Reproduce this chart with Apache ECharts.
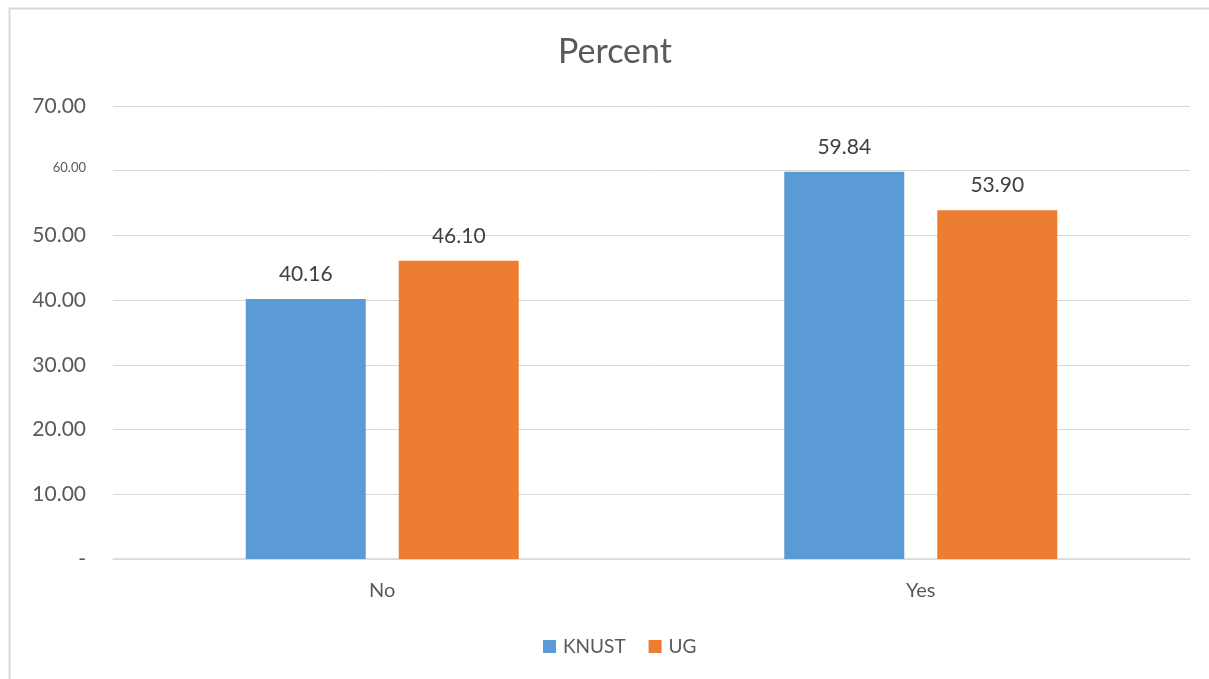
<!DOCTYPE html>
<html><head><meta charset="utf-8">
<script src="https://cdn.jsdelivr.net/npm/echarts@6/dist/echarts.min.js"></script>
<style>html,body{margin:0;padding:0;background:#fff}#c{width:1209px;height:679px}</style>
</head><body><div id="c"></div>
<script>
const categories = ['No', 'Yes'];
const knust = [40.16, 59.84];
const ug = [46.10, 53.90];
const seriesNames = ['KNUST', 'UG'];
const FONT = 'Lato, "Open Sans", sans-serif';
const chart = echarts.init(document.getElementById('c'));
chart.setOption({
  animation: false,
  backgroundColor: '#fff',
  textStyle: { fontFamily: FONT },
  title: { text: 'Percent', left: 553, top: 30, textStyle: { fontFamily: FONT, fontSize: 34, fontWeight: 'normal', color: '#595959' } },
  graphic: [{ type: 'rect', shape: { x: 9.5, y: 8.5, width: 1230, height: 700 }, style: { fill: 'none', stroke: '#d9d9d9', lineWidth: 2 }, silent: true }],
  legend: { bottom: 18, left: 538, itemWidth: 13, itemHeight: 13, itemGap: 23, icon: 'rect', textStyle: { fontFamily: FONT, fontSize: 19, color: '#595959', padding: [0,0,0,2] }, data: seriesNames },
  grid: { left: 113, right: 19, top: 106, bottom: 120, containLabel: false },
  xAxis: { type: 'category', data: categories, axisTick: { show: false }, axisLine: { lineStyle: { color: '#d9d9d9', width: 1.5 } }, axisLabel: { fontFamily: FONT, fontSize: 20, color: '#595959', margin: 22 } },
  yAxis: { type: 'value', min: 0, max: 70, interval: 10, axisLine: { show: false }, axisTick: { show: false },
    splitLine: { lineStyle: { color: '#d9d9d9', width: 1 } },
    axisLabel: { fontFamily: FONT, fontSize: 21, color: '#595959', margin: 27,
      formatter: function (v) { if (v === 0) return '-'; if (v === 60) return '{s|60.00}'; return v.toFixed(2); },
      rich: { s: { fontSize: 13, color: '#595959', fontFamily: FONT, padding: [0,0,6,0] } } } },
  series: [
    { name: seriesNames[0], type: 'bar', data: knust, barWidth: 120, barGap: '27.5%', itemStyle: { color: '#5b9bd5' },
      label: { show: true, position: 'top', distance: 14, formatter: p => p.value.toFixed(2), fontFamily: FONT, fontSize: 21, color: '#404040' } },
    { name: seriesNames[1], type: 'bar', data: ug, barWidth: 120, itemStyle: { color: '#ed7d31' },
      label: { show: true, position: 'top', distance: 14, formatter: p => p.value.toFixed(2), fontFamily: FONT, fontSize: 21, color: '#404040' } }
  ]
});
</script></body></html>
